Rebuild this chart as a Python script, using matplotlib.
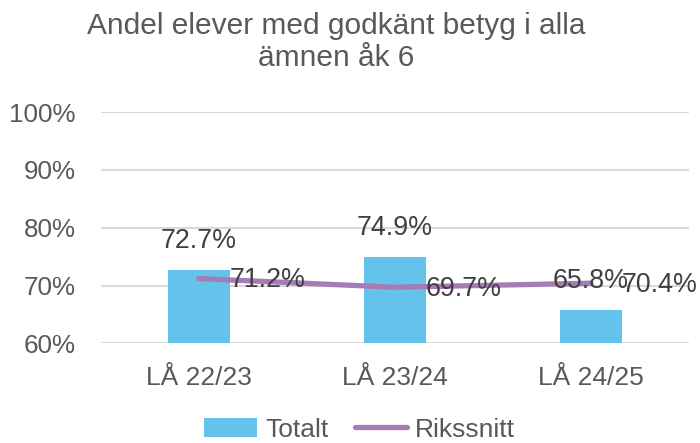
import numpy as np
import matplotlib.pyplot as plt

categories = ['LÅ 22/23', 'LÅ 23/24', 'LÅ 24/25']
totalt = [72.7, 74.9, 65.8]
rikssnitt = [71.2, 69.7, 70.4]
yticks = [60, 70, 80, 90, 100]

BAR_COLOR = '#63C3EA'
LINE_COLOR = '#A77BB6'
TEXT_COLOR = '#595959'
LABEL_COLOR = '#404040'

plt.rcParams['font.family'] = ['Liberation Sans', 'DejaVu Sans']

fig = plt.figure(figsize=(7, 4.43), dpi=100)
ax = fig.add_axes([0.144, 0.225, 0.84, 0.522])

x = np.arange(len(categories))
bars = ax.bar(x, totalt, width=0.316, color=BAR_COLOR, label='Totalt', zorder=2)
line, = ax.plot(x, rikssnitt, color=LINE_COLOR, linewidth=3.8, solid_capstyle='round',
                label='Rikssnitt', zorder=3)

# data labels
for xi, v in zip(x, totalt):
    ax.annotate(f'{v:.1f}%', (xi, v), xytext=(0, 11.5), textcoords='offset points',
                ha='center', va='bottom', fontsize=19.3, color=LABEL_COLOR, zorder=4)
for xi, v in zip(x, rikssnitt):
    ax.annotate(f'{v:.1f}%', (xi, v), xytext=(22, -1), textcoords='offset points',
                ha='left', va='center', fontsize=19.3, color=LABEL_COLOR, zorder=4)

ax.set_xlim(-0.5, len(categories) - 0.5)
ax.set_ylim(60, 100)
ax.set_yticks(yticks)
ax.set_yticklabels([f'{t}%' for t in yticks])
ax.set_xticks(x)
ax.set_xticklabels(categories)
ax.tick_params(axis='y', length=0, pad=18, labelsize=18.7, labelcolor=TEXT_COLOR)
ax.tick_params(axis='x', length=0, pad=16, labelsize=19, labelcolor=TEXT_COLOR)
ax.grid(axis='y', color='#D9D9D9', linewidth=1.5, zorder=0)
ax.set_axisbelow(True)
for s in ax.spines.values():
    s.set_visible(False)

fig.text(0.48, 0.905, 'Andel elever med godkänt betyg i alla\nämnen åk 6', ha='center', va='center',
         fontsize=21.5, color=TEXT_COLOR, linespacing=1.15)

fig.legend([bars, line], ['Totalt', 'Rikssnitt'], loc='center', bbox_to_anchor=(0.514, 0.03),
           ncol=2, frameon=False, fontsize=19, labelcolor=TEXT_COLOR, handlelength=2.0,
           handletextpad=0.3, columnspacing=1.0)

fig.savefig('out.png', dpi=100)
